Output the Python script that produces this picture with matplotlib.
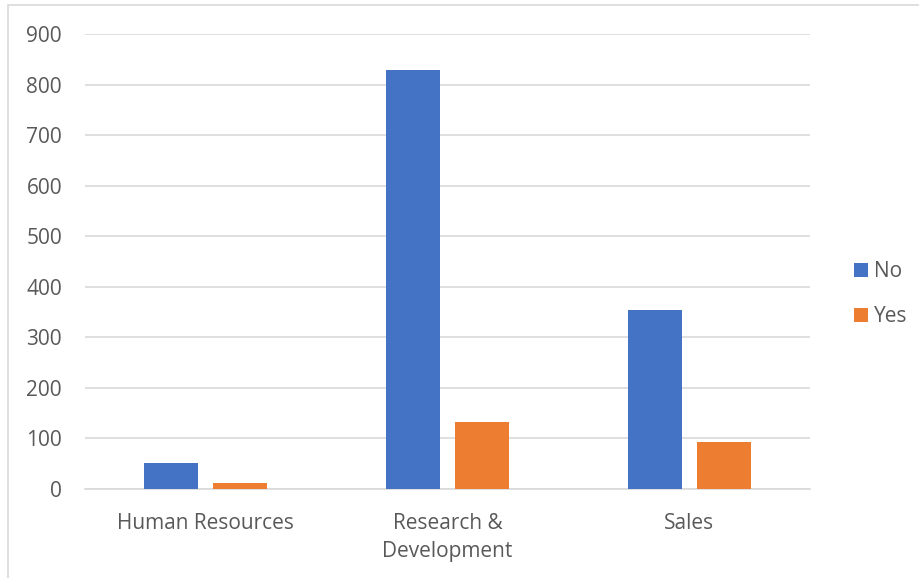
import matplotlib
matplotlib.use("Agg")
import matplotlib.pyplot as plt
import numpy as np
from matplotlib.patches import Rectangle

categories = ["Human Resources", "Research &\nDevelopment", "Sales"]
no_values = [51, 828, 354]
yes_values = [12, 133, 92]
series_names = ["No", "Yes"]
yticks = [0, 100, 200, 300, 400, 500, 600, 700, 800, 900]

plt.rcParams['font.family'] = ['Open Sans', 'DejaVu Sans']
W, H = 920, 578
fig = plt.figure(figsize=(W/100, H/100), dpi=100)
fig.patch.set_facecolor('white')
# outer border (left/top visible)
fig.add_artist(Rectangle((8/W, -0.1), 1.2, (1 - 5/H) + 0.1, transform=fig.transFigure,
                         fill=False, edgecolor='#d9d9d9', linewidth=1.2))

ax = fig.add_axes([85/W, 1 - 489/H, (810-85)/W, (489-34)/H])
x = np.arange(len(categories))
bw = 0.223
off = 0.143
ax.bar(x - off, no_values, bw, color='#4472C4', label=series_names[0], zorder=3)
ax.bar(x + off, yes_values, bw, color='#ED7D31', label=series_names[1], zorder=3)

ax.set_xlim(-0.5, 2.5)
ax.set_ylim(0, 900)
ax.set_yticks(yticks)
ax.set_yticklabels([str(v) for v in yticks])
ax.set_xticks(x)
ax.set_xticklabels(categories, linespacing=1.45)
ax.yaxis.grid(True, color='#d9d9d9', linewidth=1.2, zorder=0)
ax.set_axisbelow(True)
for s in ['top', 'right', 'left']:
    ax.spines[s].set_visible(False)
ax.spines['bottom'].set_color('#d9d9d9')
ax.spines['bottom'].set_linewidth(1.2)
ax.tick_params(axis='both', length=0, labelsize=15, colors='#595959')
ax.tick_params(axis='y', pad=16.5)
ax.tick_params(axis='x', pad=17)

fig.legend(loc='center left', bbox_to_anchor=(835/W, 1 - 294/H), frameon=False,
           fontsize=15, labelcolor='#595959', handlelength=0.67, handleheight=0.67,
           handletextpad=0.3, labelspacing=1.15)

fig.savefig("out.png", dpi=100)
